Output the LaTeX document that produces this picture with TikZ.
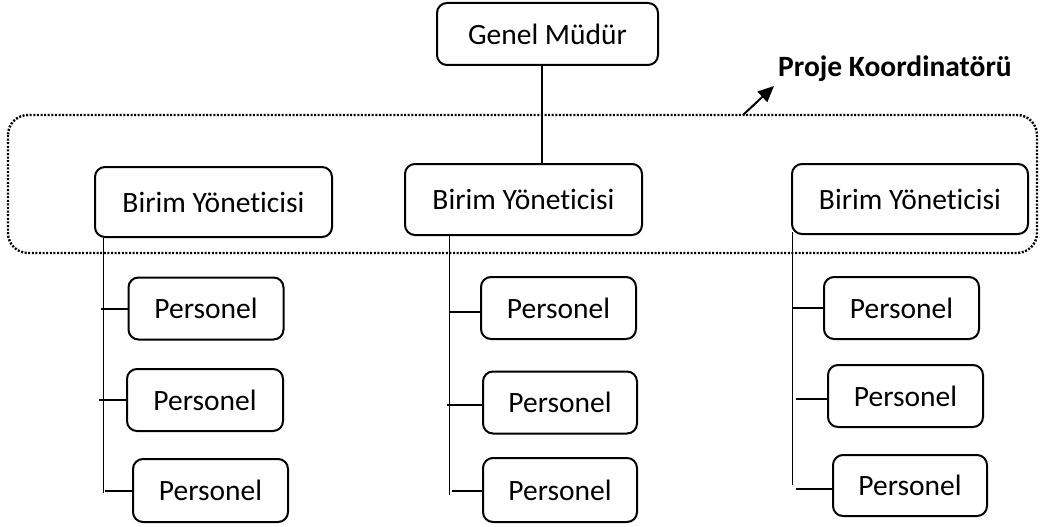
\documentclass[tikz,border=0pt]{standalone}
\usepackage{fontspec}
\setmainfont{Carlito}[Ligatures={NoCommon}]
\usetikzlibrary{arrows.meta}
\begin{document}
\begin{tikzpicture}[x=1pt,y=-1pt,
  box/.style={draw, line width=2pt, rounded corners=10pt, inner sep=0pt,
    font=\fontsize{29.5}{34}\selectfont, text depth=0pt},
  chief/.style={box, minimum width=221pt, minimum height=62pt},
  unit/.style={box, minimum width=237pt, minimum height=70pt},
  staff/.style={box, minimum width=155pt, minimum height=62pt},
  spine/.style={line width=1pt},
  tick/.style={line width=2pt},
  link/.style={line width=2pt},
  group/.style={line width=2.4pt, dash pattern=on 2pt off 1.6pt, rounded corners=20pt},
  callout/.style={line width=2pt, -{Triangle[length=16pt,width=14pt]}}
]
\useasboundingbox (0,0) rectangle (1046,527);

% project coordinator grouping
\draw[group] (8,115) rectangle (1037,253);
\coordinate (pkfrom) at (743,115);
\node[anchor=base west, inner sep=0pt, font=\fontsize{29.5}{34}\selectfont\bfseries] (pk) at (778,77) {Proje Koordinatörü};
\coordinate (pkto) at (774,86);
\draw[callout] (pkfrom) -- (pkto);

% top
\node[chief] (gm) at (547.5,34) {Genel Müdür};

% unit managers
\node[unit] (b1) at (213.5,202) {Birim Yöneticisi};
\node[unit, minimum height=71pt] (b2) at (523.5,199.5) {Birim Yöneticisi};
\node[unit, minimum width=236pt] (b3) at (910,199) {Birim Yöneticisi};

\draw[link] ([xshift=-5.5pt]gm.south) -- ([xshift=-5.5pt]gm.south |- b2.north);

% staff
\node[staff] (p11) at (206,308.5) {Personel};
\node[staff, minimum width=156pt] (p12) at (205,400) {Personel};
\node[staff, minimum height=63pt] (p13) at (210.5,490.5) {Personel};
\node[staff] (p21) at (558.5,308) {Personel};
\node[staff, minimum width=154pt] (p22) at (560,402.5) {Personel};
\node[staff, minimum width=154pt, minimum height=64pt] (p23) at (560,490) {Personel};
\node[staff] (p31) at (901.5,308) {Personel};
\node[staff] (p32) at (905.5,396) {Personel};
\node[staff, minimum width=154pt, minimum height=61pt] (p33) at (910,485.5) {Personel};

% spines
\coordinate (s1) at ([xshift=9pt]b1.south west);
\coordinate (e1) at (s1 |- 0,493);
\coordinate (s2) at ([xshift=45pt]b2.south west);
\coordinate (e2) at (s2 |- 0,495);
\coordinate (s3) at ([xshift=1pt,yshift=3pt]b3.south west);
\coordinate (e3) at (s3 |- 0,485);
\draw[spine] (s1) -- (e1);
\draw[spine] (s2) -- (e2);
\draw[spine] (s3) -- (e3);

% ticks
\draw[tick] ([xshift=-2pt]s1 |- p11.west) -- (p11.west);
\draw[tick] ([xshift=-4pt]s1 |- p12.west) -- (p12.west);
\draw[tick] ([xshift=2pt]s1 |- p13.west) -- (p13.west);
\draw[tick] ([yshift=-4pt]s2 |- p21.west) -- ([yshift=-4pt]p21.west);
\draw[tick] ([xshift=-2pt,yshift=-2pt]s2 |- p22.west) -- ([yshift=-2pt]p22.west);
\draw[tick] ([xshift=3pt,yshift=-1pt]s2 |- p23.west) -- ([yshift=-1pt]p23.west);
\draw[tick] (s3 |- p31.west) -- (p31.west);
\draw[tick] ([xshift=4pt,yshift=-3pt]s3 |- p32.west) -- ([yshift=-3pt]p32.west);
\draw[tick] ([xshift=4pt,yshift=-3pt]s3 |- p33.west) -- ([yshift=-3pt]p33.west);
\end{tikzpicture}
\end{document}
